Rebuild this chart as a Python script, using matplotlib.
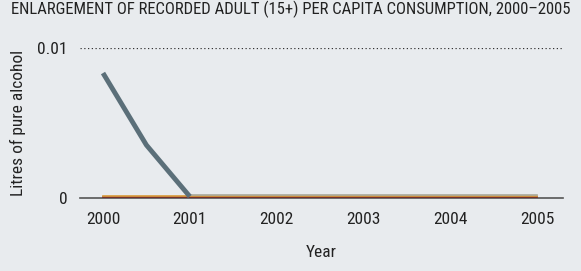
import matplotlib
matplotlib.use("Agg")
import matplotlib.pyplot as plt
from matplotlib import font_manager

names = {f.name for f in font_manager.fontManager.ttflist}
fam = next((n for n in ['Roboto Condensed', 'Archivo Narrow', 'PT Sans Narrow',
                        'Liberation Sans Narrow'] if n in names), 'DejaVu Sans')
plt.rcParams['font.family'] = [fam, 'DejaVu Sans']

years = [2000, 2000.5, 2001]
main_series = [0.00833, 0.00353, 0.0001]
other_years = [2000, 2001, 2002, 2003, 2004, 2005]
series_tan = [None, 0.0002, 0.0002, 0.0002, 0.0002, 0.0002]
series_yellow = [0.00013, 0.00013, 0.00013, 0.00013, 0.00013, 0.00013]
series_red = [0.00006, 0.00006, 0.00006, 0.00006, 0.00006, 0.00006]
series_dark = [0.0, 0.0, 0.0, 0.0, 0.0, 0.0]
xticks = [2000, 2001, 2002, 2003, 2004, 2005]
yticks = [0, 0.01]
ytick_labels = ['0', '0.01']

bg = '#e8ebee'
fig = plt.figure(figsize=(5.81, 2.71), dpi=100, facecolor=bg)
ax = fig.add_axes([80/581, 1-198/271, (563-80)/581, 150/271])
ax.set_facecolor(bg)

ax.plot(other_years, series_dark, color='#5a5a5a', lw=1.2, zorder=3)
ax.plot(other_years, series_red, color='#7a2a22', lw=1.2, zorder=4)
ax.plot(other_years, series_yellow, color='#d99a3a', lw=1.2, zorder=5)
ax.plot(other_years, [float('nan') if v is None else v for v in series_tan],
        color='#a9a99a', lw=1.2, zorder=6)
ax.plot(years, main_series, color='#5b6f79', lw=3.5, solid_capstyle='butt', zorder=7)

ax.set_xlim(1999.735, 2005.3)
ax.set_ylim(0, 0.01)
ax.set_xticks(xticks)
ax.set_xticklabels([str(x) for x in xticks])
ax.set_yticks(yticks)
ax.set_yticklabels(ytick_labels)
ax.tick_params(length=0, labelsize=12.5, colors='#222222', pad=10)
ax.tick_params(axis='y', pad=9)
for s in ['top', 'right', 'left']:
    ax.spines[s].set_visible(False)
ax.spines['bottom'].set_color('#555555')
ax.spines['bottom'].set_linewidth(1.2)
ax.spines['bottom'].set_zorder(2)
ax.axhline(0.01, color='#333333', lw=0.9, ls=(0, (1, 2)), zorder=1)

ax.set_xlabel('Year', fontsize=12.5, color='#222222', labelpad=13)
ax.set_ylabel('Litres of pure alcohol', fontsize=12.5, color='#222222', labelpad=8)

fig.text(0.5, 0.997, 'ENLARGEMENT OF RECORDED ADULT (15+) PER CAPITA CONSUMPTION, 2000\u20132005',
         ha='center', va='top', fontsize=12, color='#222222')

fig.savefig('out.png', dpi=100, facecolor=bg)
